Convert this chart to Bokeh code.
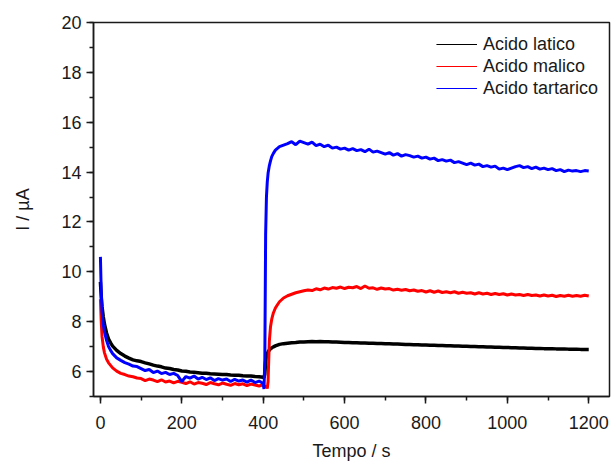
from bokeh.plotting import figure
from bokeh.models import Range1d, SingleIntervalTicker, Legend, LegendItem
from bokeh.embed import file_html
from bokeh.resources import INLINE

# ---------------- data ----------------
tempo = [0, 2, 4, 7, 10, 15, 20, 25, 30, 40, 50, 60, 70, 80, 90,
         100, 110, 120, 130, 140, 150, 160, 170, 180, 190, 200, 210, 220, 230, 240, 250,
         260, 270, 280, 290, 300, 310, 320, 330, 340, 350, 360, 370, 380, 390, 400,
         402, 404, 406, 408, 410, 412, 415, 418, 421, 425, 430, 435, 440,
         450, 460, 470, 480, 490, 500, 510, 520, 530, 540, 550, 560, 570, 580, 590, 600,
         610, 620, 630, 640, 650, 660, 670, 680, 690, 700, 710, 720, 730, 740, 750, 760,
         770, 780, 790, 800, 810, 820, 830, 840, 850, 860, 870, 880, 890, 900, 910, 920,
         930, 940, 950, 960, 970, 980, 990, 1000, 1010, 1020, 1030, 1040, 1050, 1060,
         1070, 1080, 1090, 1100, 1110, 1120, 1130, 1140, 1150, 1160, 1170, 1180, 1190, 1200]

latico = [9.6, 9.0, 8.6, 8.2, 7.9, 7.55, 7.3, 7.15, 7.02, 6.85, 6.72, 6.62, 6.54, 6.47, 6.43,
          6.40, 6.35, 6.31, 6.26, 6.22, 6.19, 6.14, 6.12, 6.08, 6.06, 6.02, 6.01, 5.98, 5.97, 5.95, 5.93,
          5.93, 5.91, 5.90, 5.89, 5.88, 5.88, 5.86, 5.85, 5.85, 5.83, 5.82, 5.82, 5.80, 5.79, 5.77,
          5.76, 5.90, 6.40, 6.62, 6.72, 6.79, 6.86, 6.91, 6.95, 6.99, 7.03, 7.06, 7.09,
          7.12, 7.14, 7.16, 7.17, 7.19, 7.19, 7.20, 7.21, 7.20, 7.21, 7.20, 7.20, 7.19, 7.19, 7.18, 7.17,
          7.17, 7.16, 7.16, 7.15, 7.15, 7.14, 7.14, 7.13, 7.13, 7.12, 7.12, 7.11, 7.11, 7.10, 7.09, 7.09,
          7.08, 7.08, 7.07, 7.07, 7.06, 7.06, 7.05, 7.05, 7.04, 7.04, 7.03, 7.03, 7.02, 7.02, 7.01, 7.01,
          7.00, 7.00, 6.99, 6.99, 6.98, 6.98, 6.97, 6.97, 6.96, 6.96, 6.95, 6.95, 6.94, 6.94,
          6.93, 6.93, 6.92, 6.92, 6.92, 6.91, 6.91, 6.91, 6.90, 6.90, 6.90, 6.89, 6.89, 6.89]

malico = [8.9, 8.0, 7.4, 7.0, 6.75, 6.5, 6.35, 6.25, 6.15, 6.02, 5.93, 5.88, 5.82, 5.79, 5.74,
          5.72, 5.64, 5.70, 5.66, 5.60, 5.67, 5.58, 5.62, 5.55, 5.61, 5.57, 5.52, 5.59, 5.50, 5.56, 5.53,
          5.48, 5.56, 5.51, 5.47, 5.54, 5.49, 5.45, 5.52, 5.47, 5.51, 5.44, 5.50, 5.46, 5.42, 5.47,
          5.40, 5.44, 5.36, 5.40, 5.32, 5.60, 7.20, 7.80, 8.10, 8.35, 8.55, 8.68, 8.80,
          8.95, 9.04, 9.10, 9.16, 9.20, 9.24, 9.27, 9.25, 9.32, 9.28, 9.35, 9.31, 9.37, 9.34, 9.39, 9.33,
          9.38, 9.36, 9.41, 9.33, 9.43, 9.34, 9.36, 9.30, 9.35, 9.31, 9.33, 9.27, 9.30, 9.26, 9.29, 9.24,
          9.27, 9.22, 9.25, 9.19, 9.24, 9.18, 9.23, 9.17, 9.20, 9.16, 9.20, 9.14, 9.18, 9.14, 9.16, 9.11,
          9.16, 9.11, 9.14, 9.09, 9.13, 9.09, 9.12, 9.07, 9.11, 9.07, 9.09, 9.05, 9.09, 9.05,
          9.07, 9.03, 9.07, 9.03, 9.06, 9.01, 9.05, 9.02, 9.06, 9.02, 9.05, 9.02, 9.06, 9.03]

tartarico = [10.6, 9.2, 8.4, 7.9, 7.6, 7.25, 7.0, 6.85, 6.72, 6.55, 6.45, 6.36, 6.30, 6.22, 6.20,
             6.12, 6.04, 6.08, 5.96, 6.02, 5.92, 5.97, 5.88, 5.93, 5.84, 5.60, 5.80, 5.74, 5.82, 5.70, 5.77,
             5.68, 5.75, 5.64, 5.72, 5.66, 5.70, 5.60, 5.69, 5.62, 5.66, 5.58, 5.66, 5.56, 5.62, 5.52,
             5.30, 6.50, 11.5, 13.0, 13.6, 13.95, 14.25, 14.45, 14.62, 14.75, 14.88, 14.95, 15.02,
             15.08, 15.14, 15.22, 15.10, 15.24, 15.18, 15.12, 15.20, 15.06, 15.12, 15.02, 15.08, 14.96, 15.00, 14.92, 14.96,
             14.88, 14.94, 14.86, 14.90, 14.82, 14.92, 14.80, 14.84, 14.78, 14.72, 14.78, 14.68, 14.74, 14.64, 14.70, 14.66,
             14.60, 14.64, 14.56, 14.60, 14.52, 14.56, 14.46, 14.50, 14.44, 14.48, 14.38, 14.42, 14.36, 14.30, 14.36, 14.28,
             14.32, 14.22, 14.26, 14.20, 14.24, 14.12, 14.16, 14.10, 14.16, 14.22, 14.26, 14.18, 14.22, 14.14,
             14.20, 14.12, 14.16, 14.10, 14.14, 14.06, 14.10, 14.02, 14.08, 14.04, 14.06, 14.02, 14.06, 14.04]

serie_nomi = ["Acido latico", "Acido malico", "Acido tartarico"]
serie_colori = ["#000000", "#ff0000", "#0000ff"]

FONT = "Liberation Sans"
NAN = float("nan")

p = figure(width=611, height=463, output_backend="svg", toolbar_location=None,
           x_range=Range1d(-17, 1251), y_range=Range1d(5, 20),
           min_border_left=93, min_border_right=2, min_border_top=22, min_border_bottom=65)
p.background_fill_color = "white"
p.border_fill_color = "white"
p.xgrid.visible = False
p.ygrid.visible = False
p.outline_line_color = "#1a1a1a"
p.outline_line_width = 1.5

p.line(tempo, latico, color=serie_colori[0], line_width=3.5)
p.line(tempo, malico, color=serie_colori[1], line_width=3)
p.line(tempo, tartarico, color=serie_colori[2], line_width=3)

# thin line samples used only for the legend (no visible data)
leg_r = [p.line(x=[NAN], y=[NAN], color=c, line_width=1.2) for c in serie_colori]

for ax in (p.xaxis[0], p.yaxis[0]):
    ax.axis_line_width = 1.5
    ax.axis_line_color = "#1a1a1a"
    ax.major_tick_line_color = "#1a1a1a"
    ax.minor_tick_line_color = "#1a1a1a"
    ax.major_tick_line_width = 1.5
    ax.minor_tick_line_width = 1.5
    ax.major_tick_out = 7
    ax.major_tick_in = 0
    ax.minor_tick_out = 4
    ax.minor_tick_in = 0
    ax.major_label_text_font = FONT
    ax.major_label_text_font_size = "18px"
    ax.major_label_text_color = "#1a1a1a"
    ax.axis_label_text_font = FONT
    ax.axis_label_text_font_size = "18px"
    ax.axis_label_text_font_style = "normal"
    ax.axis_label_text_color = "#1a1a1a"

p.xaxis[0].ticker = SingleIntervalTicker(interval=200, num_minor_ticks=2)
p.yaxis[0].ticker = SingleIntervalTicker(interval=2, num_minor_ticks=2)
p.xaxis[0].axis_label = "Tempo / s"
p.yaxis[0].axis_label = "I / µA"
p.xaxis[0].major_label_standoff = 12
p.yaxis[0].major_label_standoff = 5
p.xaxis[0].axis_label_standoff = 9
p.yaxis[0].axis_label_standoff = 25

legend = Legend(items=[LegendItem(label=serie_nomi[i], renderers=[leg_r[i]]) for i in range(3)],
                location="top_right", margin=0, padding=11, spacing=0,
                glyph_width=41, glyph_height=20, label_height=22, label_standoff=6,
                label_text_font=FONT, label_text_font_size="18px",
                label_text_color="#1a1a1a",
                border_line_alpha=0, background_fill_alpha=0)
p.add_layout(legend, "center")

open("out.html", "w").write(file_html(p, INLINE))
